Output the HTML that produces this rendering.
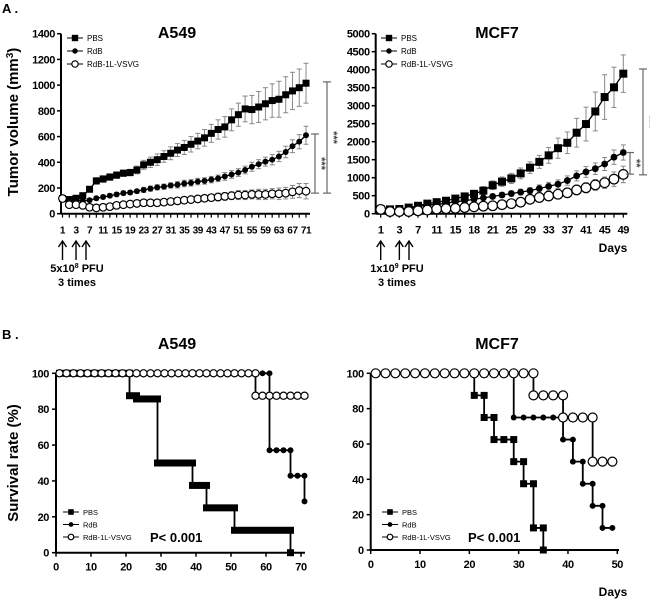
<!DOCTYPE html>
<html><head><meta charset="utf-8"><style>
body{margin:0;background:#fff}
svg{display:block;font-family:"Liberation Sans",sans-serif}
.tk{letter-spacing:-0.4px}
</style></head><body>
<svg id="fig" width="650" height="605" viewBox="0 0 650 605" xmlns="http://www.w3.org/2000/svg">
<text x="2" y="13" font-size="13" font-weight="bold">A .</text>
<text x="2" y="339" font-size="13" font-weight="bold">B .</text>
<text x="177" y="38" font-size="16" font-weight="bold" text-anchor="middle">A549</text>
<text x="497" y="38" font-size="16" font-weight="bold" text-anchor="middle">MCF7</text>
<text x="177" y="349" font-size="16" font-weight="bold" text-anchor="middle">A549</text>
<text x="497" y="349" font-size="16" font-weight="bold" text-anchor="middle">MCF7</text>
<text transform="translate(18,122) rotate(-90)" font-size="15" font-weight="bold" text-anchor="middle">Tumor volume (mm<tspan font-size="10" dy="-5">3</tspan><tspan dy="5">)</tspan></text>
<text transform="translate(18,463) rotate(-90)" font-size="15" font-weight="bold" text-anchor="middle">Survival rate (%)</text>
<text x="613" y="252" font-size="12" font-weight="bold" text-anchor="middle">Days</text>
<text x="613" y="596" font-size="12" font-weight="bold" text-anchor="middle">Days</text>
<text x="77" y="272" font-size="11" font-weight="bold" text-anchor="middle">5x10<tspan font-size="7" dy="-4">8</tspan><tspan dy="4"> PFU</tspan></text>
<text x="77" y="286" font-size="11" font-weight="bold" text-anchor="middle">3 times</text>
<text x="397" y="272" font-size="11" font-weight="bold" text-anchor="middle">1x10<tspan font-size="7" dy="-4">9</tspan><tspan dy="4"> PFU</tspan></text>
<text x="397" y="286" font-size="11" font-weight="bold" text-anchor="middle">3 times</text>
<text x="150" y="542" font-size="13" font-weight="bold">P&lt; 0.001</text>
<text x="468" y="542" font-size="13" font-weight="bold">P&lt; 0.001</text>
</svg>
<script>
// ---- data: A549 tumor volume ----
const a549XLabels=["1","3","7","11","15","19","23","27","31","35","39","43","47","51","55","59","63","67","71"];
const a549YTicks=[0,200,400,600,800,1000,1200,1400];
const a549PBS=[118,110,120,140,190,255,270,285,300,315,320,340,380,400,420,445,470,495,515,540,565,590,625,655,675,730,770,815,810,830,855,880,890,925,955,980,1015];
const a549PBSsd=[10,10,10,15,20,25,25,25,25,25,25,30,35,40,45,45,50,50,55,60,60,65,70,75,80,85,90,100,110,120,125,130,140,140,145,145,155];
const a549RdB=[118,100,105,100,105,120,130,140,150,160,165,175,185,195,205,210,220,225,235,240,250,255,265,275,290,305,320,340,365,385,405,420,445,480,525,560,610];
const a549RdBsd=[10,10,10,10,10,15,15,15,15,15,15,15,20,20,20,20,20,25,25,25,25,25,25,25,30,30,30,30,35,35,35,40,40,45,50,55,70];
const a549VSVG=[118,70,70,65,50,45,50,55,65,70,75,80,85,85,85,90,95,100,105,110,115,120,125,130,135,140,145,145,150,150,150,155,155,160,170,180,175];
const a549VSVGsd=[10,10,10,10,10,10,10,15,15,15,15,15,15,20,20,20,20,20,25,25,25,25,25,30,30,30,35,35,35,40,40,40,45,45,50,55,60];
// ---- data: MCF7 tumor volume ----
const mcf7XLabels=["1","3","7","11","15","18","21","25","29","33","37","41","45","49"];
const mcf7YTicks=[0,500,1000,1500,2000,2500,3000,3500,4000,4500,5000];
const mcf7PBS=[120,120,130,170,220,280,320,360,420,480,550,640,790,890,980,1120,1280,1440,1620,1820,1970,2250,2490,2840,3240,3510,3890];
const mcf7PBSsd=[30,30,30,40,50,50,60,70,80,90,100,110,120,130,140,150,160,180,220,280,300,400,470,540,620,560,520];
const mcf7RdB=[120,100,110,150,200,240,260,290,330,360,400,440,480,520,560,600,640,700,760,820,920,1050,1160,1250,1380,1570,1700];
const mcf7RdBsd=[30,30,30,30,40,40,40,50,50,50,60,60,60,70,70,80,80,100,110,120,130,140,150,160,180,200,210];
const mcf7VSVG=[120,60,60,60,80,100,130,140,150,170,190,210,220,250,280,320,400,450,490,540,580,660,720,800,860,960,1090];
const mcf7VSVGsd=[30,30,30,30,30,40,40,40,50,50,50,60,60,60,70,70,80,90,100,110,120,130,140,150,160,200,230];
// ---- data: survival (step events [day, percent]) ----
const survXTicksA=[0,10,20,30,40,50,60,70];
const survXTicksM=[0,10,20,30,40,50];
const survYTicks=[0,20,40,60,80,100];
const sA549PBSdays=[0,21,23,29,39,43,51,67];
const sA549PBSvals=[100,87.5,85.7,50,37.5,25,12.5,0];
const sA549RdBdays=[0,61,67,71];
const sA549RdBvals=[100,57.1,42.9,28.6];
const sA549VSVGdays=[0,57];
const sA549VSVGvals=[100,87.5];
const sMCF7PBSdays=[0,21,23,25,29,31,33,35];
const sMCF7PBSvals=[100,87.5,75,62.5,50,37.5,12.5,0];
const sMCF7RdBdays=[0,29,39,41,43,45,47];
const sMCF7RdBvals=[100,75,62.5,50,37.5,25,12.5];
const sMCF7VSVGdays=[0,33,39,45];
const sMCF7VSVGvals=[100,87.5,75,50];

const svg=document.getElementById('fig');
const NS='http://www.w3.org/2000/svg';
function mk(tag,attrs,parent){const e=document.createElementNS(NS,tag);for(const k in attrs)e.setAttribute(k,attrs[k]);(parent||svg).appendChild(e);return e;}
function txt(x,y,s,size,anchor,parent){const t=mk('text',{x:x,y:y,'font-size':size,'font-weight':'bold','text-anchor':anchor},parent);t.textContent=s;return t;}
function marker(g,type,x,y,s){
  let m;
  if(type==='sq'){m=mk('rect',{x:x-s,y:y-s,width:2*s,height:2*s,fill:'#000'},g);}
  else if(type==='dot'){m=mk('circle',{cx:x,cy:y,r:s*0.85,fill:'#000'},g);}
  else{m=mk('circle',{cx:x,cy:y,r:s,fill:'#fff',stroke:'#000','stroke-width':1.2},g);}
  return m;
}
function legend(g,x0,y0,dy,names,types,s,fs){
  for(let i=0;i<names.length;i++){
    const le=mk('g',{},g);
    
    
    const y=y0+i*dy;
    mk('line',{x1:x0,y1:y,x2:x0+16,y2:y,stroke:'#000','stroke-width':1},le);
    marker(le,types[i],x0+8,y,s);
    txt(x0+20,y+3,names[i],fs,'start',le).setAttribute('font-weight','normal');
  }
}

// ---- tumor chart ----
function tumorChart(name,o){
  const g=mk('g',{});
  
  
  const n=o.series[0].v.length;
  const X=i=>o.x0+(o.x1-o.x0)*i/(n-1);
  const Y=v=>o.y0-(o.y0-o.y1)*v/o.ymax;
  mk('line',{x1:o.ax,y1:o.y1,x2:o.ax,y2:o.y0,stroke:'#000','stroke-width':2},g);
  mk('line',{x1:o.ax,y1:o.y0,x2:o.x1+4,y2:o.y0,stroke:'#000','stroke-width':2},g);
  o.yticks.forEach(v=>{mk('line',{x1:o.ax-4,y1:Y(v),x2:o.ax,y2:Y(v),stroke:'#000','stroke-width':1.5},g);
    const t=txt(o.ax-6,Y(v)+4,String(v),11,'end',g);
    t.setAttribute('class','tk');
    
    });
  for(let i=0;i<n;i++)mk('line',{x1:X(i),y1:o.y0,x2:X(i),y2:o.y0+4,stroke:'#000','stroke-width':1.2},g);
  o.xlabels.forEach((s,k)=>{const t=txt(X(o.labelIdx(k)),o.y0+20,s,o.xfs,'middle',g);
    t.setAttribute('class','tk');
    
    });
  o.series.forEach(se=>{
    const sg=mk('g',{},g);
    
    
    for(let i=0;i<n;i++){
      const x=X(i),a=Y(se.v[i]+se.sd[i]),b=Y(Math.max(0,se.v[i]-se.sd[i]));
      mk('line',{x1:x,y1:a,x2:x,y2:b,stroke:'#888','stroke-width':1},sg);
      mk('line',{x1:x-2.5,y1:a,x2:x+2.5,y2:a,stroke:'#888','stroke-width':1},sg);
      mk('line',{x1:x-2.5,y1:b,x2:x+2.5,y2:b,stroke:'#888','stroke-width':1},sg);
    }
    mk('polyline',{points:se.v.map((v,i)=>X(i)+','+Y(v)).join(' '),fill:'none',stroke:'#000','stroke-width':1.3},sg);
    for(let i=0;i<n;i++){const m=marker(sg,se.type,X(i),Y(se.v[i]),se.s);
      
      }
  });
  legend(g,o.legX,o.legY,13,['PBS','RdB','RdB-1L-VSVG'],['sq','dot','open'],3.2,8);
  o.brackets.forEach(br=>{
    const bg=mk('g',{},g);
    
    
    const ya=Y(br.top),yb=Y(br.bot);
    mk('line',{x1:br.x,y1:ya,x2:br.x,y2:yb,stroke:'#666','stroke-width':1.2},bg);
    mk('line',{x1:br.x-4,y1:ya,x2:br.x+4,y2:ya,stroke:'#666','stroke-width':1.2},bg);
    mk('line',{x1:br.x-4,y1:yb,x2:br.x+4,y2:yb,stroke:'#666','stroke-width':1.2},bg);
    const t=mk('text',{transform:'translate('+(br.x+3)+','+((ya+yb)/2)+') rotate(90)','font-size':11,'font-weight':'bold','text-anchor':'middle',fill:'#444'},bg);
    t.textContent=br.label;
  });
  o.arrows.forEach(k=>{const x=X(o.labelIdx(k));
    const ag=mk('g',{},g);
    
    
    mk('line',{x1:x,y1:242,x2:x,y2:260,stroke:'#000','stroke-width':1.4},ag);
    mk('polyline',{points:(x-4)+',247 '+x+',241 '+(x+4)+',247',fill:'none',stroke:'#000','stroke-width':1.4},ag);
  });
}
tumorChart('a549-tumor-chart',{ax:61,x0:62.5,x1:306,y0:213.7,y1:33.7,ymax:1400,yticks:a549YTicks,xlabels:a549XLabels,labelIdx:k=>2*k,xfs:10,
  legX:67,legY:38,arrows:[0,1],
  series:[{name:'pbs',v:a549PBS,sd:a549PBSsd,type:'sq',s:3.5},{name:'rdb',v:a549RdB,sd:a549RdBsd,type:'dot',s:3.5},{name:'rdb-1l-vsvg',v:a549VSVG,sd:a549VSVGsd,type:'open',s:3.8}],
  brackets:[{x:315,top:620,bot:160,label:'***'},{x:327,top:1025,bot:160,label:'***'}]});
tumorChart('mcf7-tumor-chart',{ax:375.7,x0:380.7,x1:623.3,y0:213.7,y1:33.7,ymax:5000,yticks:mcf7YTicks,xlabels:mcf7XLabels,labelIdx:k=>2*k,xfs:11,
  legX:381,legY:38,arrows:[0,1],
  series:[{name:'pbs',v:mcf7PBS,sd:mcf7PBSsd,type:'sq',s:4},{name:'rdb',v:mcf7RdB,sd:mcf7RdBsd,type:'dot',s:4},{name:'rdb-1l-vsvg',v:mcf7VSVG,sd:mcf7VSVGsd,type:'open',s:4.8}],
  brackets:[{x:630,top:1700,bot:1100,label:'**'},{x:643,top:4020,bot:1080,label:'***'}]});
// extra arrows (third injection)
[[86,'a549'],[409,'mcf7']].forEach(p=>{
  const ag=mk('g',{});
  
  
  mk('line',{x1:p[0],y1:242,x2:p[0],y2:260,stroke:'#000','stroke-width':1.4},ag);
  mk('polyline',{points:(p[0]-4)+',247 '+p[0]+',241 '+(p[0]+4)+',247',fill:'none',stroke:'#000','stroke-width':1.4},ag);
});

// ---- survival chart ----
function survChart(name,o){
  const g=mk('g',{});
  
  
  const X=d=>o.x0+(o.x1-o.x0)*d/o.xmax;
  const Y=v=>o.y0-(o.y0-o.y1)*v/100;
  mk('line',{x1:o.x0,y1:o.y1,x2:o.x0,y2:o.y0,stroke:'#000','stroke-width':2},g);
  mk('line',{x1:o.x0,y1:o.y0,x2:o.xend,y2:o.y0,stroke:'#000','stroke-width':2},g);
  survYTicks.forEach(v=>{mk('line',{x1:o.x0-4,y1:Y(v),x2:o.x0,y2:Y(v),stroke:'#000','stroke-width':1.5},g);
    const t=txt(o.x0-7,Y(v)+4,String(v),11,'end',g);
    t.setAttribute('class','tk');
    
    });
  o.xticks.forEach(v=>{mk('line',{x1:X(v),y1:o.y0,x2:X(v),y2:o.y0+4,stroke:'#000','stroke-width':1.5},g);
    const t=txt(X(v),o.y0+18,String(v),11,'middle',g);
    t.setAttribute('class','tk');
    
    });
  o.series.forEach(se=>{
    const sg=mk('g',{},g);
    
    
    const valAt=d=>{let v=se.vals[0];for(let i=0;i<se.days.length;i++)if(se.days[i]<=d)v=se.vals[i];return v;};
    let pts=[];
    for(let i=0;i<se.days.length;i++){
      if(i>0)pts.push(X(se.days[i])+','+Y(se.vals[i-1]));
      pts.push(X(se.days[i])+','+Y(se.vals[i]));
    }
    pts.push(X(se.end)+','+Y(se.vals[se.vals.length-1]));
    pts[0]=X(1)+','+Y(se.vals[0]);
    mk('polyline',{points:pts.join(' '),fill:'none',stroke:'#000','stroke-width':1.8},sg);
    for(let d=1;d<=se.end;d+=2){
      const m=marker(sg,se.type,X(d),Y(valAt(d)),se.s);
      
      
      const idx=se.days.indexOf(d);
      if(idx>0){const m2=marker(sg,se.type,X(d),Y(se.vals[idx-1]),se.s);
        
        }
    }
  });
  legend(g,o.legX,512,12.5,['PBS','RdB','RdB-1L-VSVG'],['sq','dot','open'],2.8,7.5);
}
survChart('a549-survival-chart',{x0:56,x1:301,xmax:70,xend:305,y0:552.7,y1:373.3,xticks:survXTicksA,legX:63,
  series:[{name:'pbs',days:sA549PBSdays,vals:sA549PBSvals,end:67,type:'sq',s:3.5},
          {name:'rdb',days:sA549RdBdays,vals:sA549RdBvals,end:71,type:'dot',s:3.5},
          {name:'rdb-1l-vsvg',days:sA549VSVGdays,vals:sA549VSVGvals,end:71,type:'open',s:3.6}]});
survChart('mcf7-survival-chart',{x0:370.7,x1:617.3,xmax:50,xend:619,y0:550,y1:373.3,xticks:survXTicksM,legX:382,
  series:[{name:'pbs',days:sMCF7PBSdays,vals:sMCF7PBSvals,end:35,type:'sq',s:3.5},
          {name:'rdb',days:sMCF7RdBdays,vals:sMCF7RdBvals,end:49,type:'dot',s:3.5},
          {name:'rdb-1l-vsvg',days:sMCF7VSVGdays,vals:sMCF7VSVGvals,end:49,type:'open',s:4.5}]});
</script>
</body></html>
